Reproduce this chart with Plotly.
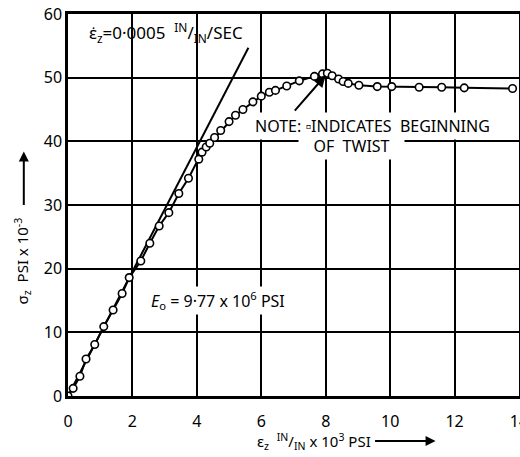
import plotly.graph_objects as go

# Measured stress-strain points (strain in IN/IN x10^3, stress in PSI x10^-3)
strain = [0, 0.16, 0.37, 0.56, 0.83, 1.11, 1.40, 1.68, 1.90, 2.26, 2.54, 2.83,
          3.13, 3.44, 3.74, 4.06, 4.16, 4.29, 4.40, 4.55, 4.74, 5.0, 5.2, 5.43,
          5.74, 6.0, 6.25, 6.44, 6.79, 7.18, 7.65, 7.9, 8.05, 8.2, 8.4, 8.54,
          8.7, 9.03, 9.6, 10.05, 10.9, 11.6, 12.3, 13.8]
stress = [0, 1.2, 3.1, 5.8, 8.1, 10.9, 13.5, 16.1, 18.6, 21.2, 24.0, 26.7,
          28.8, 31.8, 34.2, 37.2, 38.3, 39.1, 39.7, 40.6, 41.7, 43.1, 44.1, 45.0,
          46.2, 47.1, 47.7, 48.0, 48.7, 49.5, 50.2, 50.6, 50.7, 50.3, 49.8, 49.4,
          49.1, 48.8, 48.6, 48.6, 48.5, 48.5, 48.4, 48.3]

# Elastic modulus line E0 = 9.77 x 10^6 PSI
modulus = 9.77
elastic_strain = [0, 5.6]
elastic_stress = [modulus * e for e in elastic_strain]

x_ticks = [0, 2, 4, 6, 8, 10, 12, 14]
y_ticks = [0, 10, 20, 30, 40, 50, 60]

FONT = "Noto Sans"
fig = go.Figure()

fig.add_trace(go.Scatter(
    x=elastic_strain, y=elastic_stress, mode="lines",
    line=dict(color="black", width=2), showlegend=False, hoverinfo="skip"))

fig.add_trace(go.Scatter(
    x=strain, y=stress, mode="lines+markers",
    line=dict(color="black", width=2),
    marker=dict(symbol="circle", size=7.5, color="white",
                line=dict(color="black", width=1.6)),
    showlegend=False))

axis_common = dict(
    showgrid=True, gridcolor="black", gridwidth=2,
    showline=True, linecolor="black", linewidth=2.5, mirror=True,
    zeroline=False, ticks="", tickfont=dict(family=FONT, size=16, color="black"),
    ticklabeloverflow="allow", automargin=False,
)

fig.update_xaxes(range=[0, 14], tickvals=x_ticks, ticktext=[str(v) for v in x_ticks],
                 ticklabelstandoff=9, **axis_common)
fig.update_yaxes(range=[0, 60], tickvals=y_ticks, ticktext=[str(v) for v in y_ticks],
                 ticklabelstandoff=0, **axis_common)

annotations = [
    dict(x=0.6, y=57.1, xref="x", yref="y", xanchor="left", yanchor="middle",
         text="ε̇<sub>z</sub>=0·0005  <sup>IN</sup>/<sub>IN</sub>/SEC",
         showarrow=False, font=dict(family=FONT, size=17, color="black")),
    dict(x=4.65, y=15, xref="x", yref="y", xanchor="center", yanchor="middle",
         text="<i>E</i><sub>o</sub> = 9·77 x 10<sup>6</sup> PSI",
         showarrow=False, font=dict(family=FONT, size=16, color="black"),
         bgcolor="white"),
    dict(x=9.45, y=42.4, xref="x", yref="y", xanchor="center", yanchor="middle",
         text="NOTE: ▫INDICATES  BEGINNING",
         showarrow=False, font=dict(family=FONT, size=16, color="black"),
         bgcolor="white", borderpad=2),
    dict(x=8.8, y=39.2, xref="x", yref="y", xanchor="center", yanchor="middle",
         text="   OF  TWIST   ",
         showarrow=False, font=dict(family=FONT, size=16, color="black"),
         bgcolor="white", borderpad=2),
    # pointer to the beginning of twist
    dict(x=8.0, y=50.4, ax=7.0, ay=44.6, xref="x", yref="y", axref="x", ayref="y",
         text="", showarrow=True, arrowhead=2, arrowsize=1.2, arrowwidth=2,
         arrowcolor="black"),
    # axis titles
    dict(x=0.545, y=-0.118, xref="paper", yref="paper", xanchor="center", yanchor="middle",
         text="ε<sub>z</sub>  <sup>IN</sup>/<sub>IN</sub> x 10<sup>3</sup> PSI",
         showarrow=False, font=dict(family=FONT, size=15, color="black")),
    dict(x=0.815, y=-0.118, ax=-62, ay=0, xref="paper", yref="paper",
         axref="pixel", ayref="pixel", text="", showarrow=True, arrowhead=2,
         arrowsize=1, arrowwidth=2, arrowcolor="black"),
    dict(x=-0.102, y=0.355, xref="paper", yref="paper", xanchor="center", yanchor="middle",
         text="σ<sub>z</sub>  PSI x 10<sup>-3</sup>", textangle=-90,
         showarrow=False, font=dict(family=FONT, size=15, color="black")),
    dict(x=-0.098, y=0.64, ax=0, ay=55, xref="paper", yref="paper",
         axref="pixel", ayref="pixel", text="", showarrow=True, arrowhead=2,
         arrowsize=1, arrowwidth=2, arrowcolor="black"),
]

fig.update_layout(
    width=520, height=457,
    margin=dict(l=68, r=1, t=14, b=61),
    paper_bgcolor="white", plot_bgcolor="white",
    annotations=annotations,
    font=dict(family=FONT, color="black"),
)

fig.write_html("out.html")
